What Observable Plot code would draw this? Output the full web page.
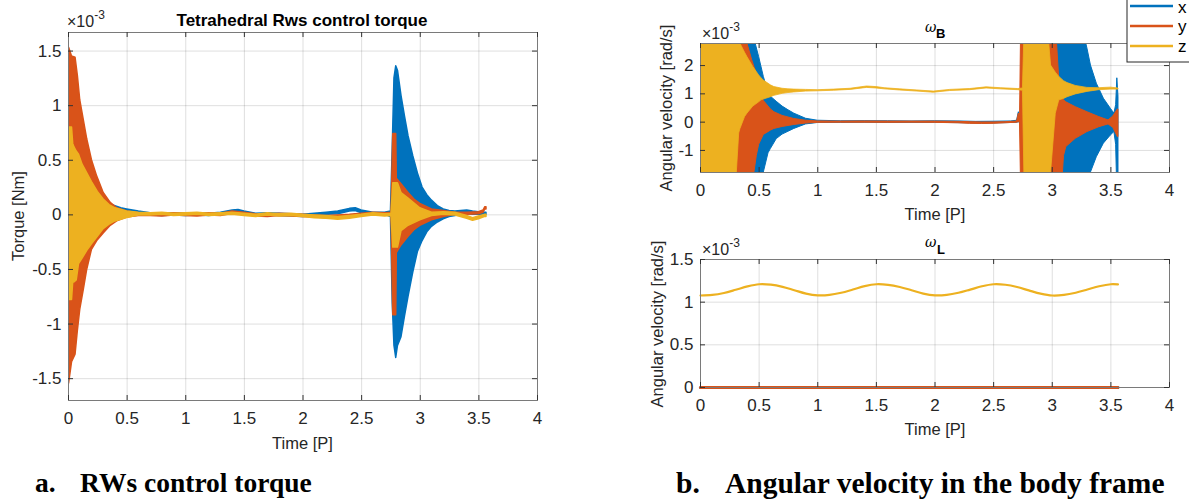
<!DOCTYPE html>
<html>
<head>
<meta charset="utf-8">
<script src="https://cdn.jsdelivr.net/npm/d3@7"></script>
<script src="https://cdn.jsdelivr.net/npm/@observablehq/plot@0.6"></script>
<style>
  html, body { margin: 0; padding: 0; background: #fff; }
  #root { position: relative; width: 1189px; height: 502px; background: #fff; overflow: hidden; }
  .pl { position: absolute; }
  .pl svg [aria-label*="tick label"], .pl svg [aria-label*="tick label"] text { font-size: 17px !important; font-family: "Liberation Sans", Arial, Helvetica, sans-serif !important; fill: #262626; }
  #ov { position: absolute; left: 0; top: 0; pointer-events: none; }
</style>
</head>
<body>
<div id="root">
  <div class="pl" id="pA" style="left:0;top:0"></div>
  <div class="pl" id="pB" style="left:600px;top:0"></div>
  <div class="pl" id="pC" style="left:600px;top:230px"></div>
  <svg id="ov" width="1189" height="502" font-family="Liberation Sans, Arial, Helvetica, sans-serif">
    <!-- left panel -->
    <text x="302" y="26" text-anchor="middle" font-weight="bold" font-size="17" fill="#000">Tetrahedral Rws control torque</text>
    <text x="67" y="27" font-size="16" fill="#262626">×10<tspan dy="-8" font-size="12">-3</tspan></text>
    <text transform="translate(18,216) rotate(-90)" text-anchor="middle" dominant-baseline="central" font-size="16.5" fill="#262626">Torque [Nm]</text>
    <text x="302.5" y="443" text-anchor="middle" dominant-baseline="central" font-size="16.5" fill="#262626">Time [P]</text>
    <!-- omega B -->
    <text x="925" y="32" font-size="14" font-style="italic" font-family="DejaVu Serif, serif" fill="#000">ω</text>
    <text x="936" y="38" font-size="13" font-weight="bold" fill="#000">B</text>
    <text x="702" y="39" font-size="16" fill="#262626">×10<tspan dy="-8" font-size="12">-3</tspan></text>
    <text transform="translate(666,108) rotate(-90)" text-anchor="middle" dominant-baseline="central" font-size="16.5" fill="#262626">Angular velocity [rad/s]</text>
    <text x="935" y="214" text-anchor="middle" dominant-baseline="central" font-size="16.5" fill="#262626">Time [P]</text>
    <!-- omega L -->
    <text x="925" y="247" font-size="14" font-style="italic" font-family="DejaVu Serif, serif" fill="#000">ω</text>
    <text x="937" y="254" font-size="13" font-weight="bold" fill="#000">L</text>
    <text x="702" y="255" font-size="16" fill="#262626">×10<tspan dy="-8" font-size="12">-3</tspan></text>
    <text transform="translate(657,324) rotate(-90)" text-anchor="middle" dominant-baseline="central" font-size="16.5" fill="#262626">Angular velocity [rad/s]</text>
    <text x="935" y="429" text-anchor="middle" dominant-baseline="central" font-size="16.5" fill="#262626">Time [P]</text>
    <!-- legend -->
    <rect x="1127" y="-6" width="70" height="68" fill="#fff" stroke="#262626" stroke-width="1"></rect>
    <line x1="1130" x2="1173" y1="6" y2="6" stroke="#0072BD" stroke-width="2.5"></line>
    <line x1="1130" x2="1173" y1="26" y2="26" stroke="#D95319" stroke-width="2.5"></line>
    <line x1="1130" x2="1173" y1="46" y2="46" stroke="#EDB120" stroke-width="2.5"></line>
    <text x="1178" y="13" font-size="17" fill="#000">x</text>
    <text x="1178" y="32" font-size="17" fill="#000">y</text>
    <text x="1178" y="52" font-size="17" fill="#000">z</text>
    <!-- captions -->
    <text x="35" y="492" font-family="Liberation Serif, Times New Roman, serif" font-weight="bold" font-size="27.5" fill="#000">a.</text>
    <text x="80" y="492" font-family="Liberation Serif, Times New Roman, serif" font-weight="bold" font-size="27.5" fill="#000">RWs control torque</text>
    <text x="676" y="493" font-family="Liberation Serif, Times New Roman, serif" font-weight="bold" font-size="29.5" fill="#000">b.</text>
    <text x="725" y="493" font-family="Liberation Serif, Times New Roman, serif" font-weight="bold" font-size="29.5" fill="#000">Angular velocity in the body frame</text>
  </svg>
</div>
<script>
// ---------------- DATA (values in units of 1e-3) ----------------
const colors = { x: "#0072BD", y: "#D95319", z: "#EDB120" };
const xTicks = [0, 0.5, 1, 1.5, 2, 2.5, 3, 3.5, 4];
const torqueTicks = [-1.5, -1, -0.5, 0, 0.5, 1, 1.5];
const omegaBTicks = [-1, 0, 1, 2];
const omegaLTicks = [0, 0.5, 1, 1.5];

// Torque envelopes (upper / lower of the oscillating signals)
const torqueX_t  = [0, 0.05, 0.1, 0.15, 0.2, 0.25, 0.3, 0.35, 0.4, 0.45, 0.5, 0.55, 0.6, 0.7, 0.8, 0.9, 1.0, 1.1, 1.2, 1.3, 1.4, 1.45, 1.5, 1.6, 1.7, 1.8, 1.9, 2.0, 2.1, 2.2, 2.3, 2.4, 2.45, 2.5, 2.6, 2.7, 2.75, 2.765, 2.78, 2.795, 2.81, 2.84, 2.87, 2.90, 2.94, 2.98, 3.02, 3.06, 3.1, 3.15, 3.2, 3.25, 3.3, 3.35, 3.4, 3.45, 3.5, 3.55, 3.565];
const torqueX_hi = [0.9, 0.8, 0.6, 0.45, 0.3, 0.2, 0.14, 0.1, 0.08, 0.06, 0.05, 0.04, 0.03, 0.015, 0.01, 0.015, 0.01, 0.015, 0.01, 0.02, 0.04, 0.045, 0.03, 0.01, 0.015, 0.01, 0.005, 0.0, 0.01, 0.02, 0.03, 0.055, 0.06, 0.04, 0.02, 0.02, 0.03, 0.6, 1.25, 1.36, 1.32, 1.09, 0.90, 0.72, 0.54, 0.38, 0.25, 0.18, 0.13, 0.08, 0.05, 0.035, 0.03, 0.035, 0.04, 0.03, 0.025, 0.02, 0.02];
const torqueX_lo = [-0.9, -0.8, -0.6, -0.45, -0.3, -0.2, -0.13, -0.08, -0.05, -0.02, -0.005, 0.0, 0.005, -0.005, -0.01, -0.005, -0.01, -0.005, -0.01, 0.0, 0.015, 0.02, 0.01, -0.01, -0.005, -0.01, -0.015, -0.02, -0.01, 0.0, 0.005, 0.03, 0.035, 0.015, 0.0, 0.0, -0.02, -0.8, -1.2, -1.31, -1.2, -1.12, -0.93, -0.75, -0.53, -0.34, -0.24, -0.16, -0.11, -0.07, -0.04, -0.02, -0.01, 0.0, 0.005, 0.0, 0.0, -0.01, 0.0];

const torqueY_t  = [0, 0.005, 0.03, 0.06, 0.08, 0.10, 0.13, 0.16, 0.2, 0.245, 0.3, 0.36, 0.415, 0.5, 0.6, 0.7, 0.8, 0.9, 1.0, 1.1, 1.2, 1.3, 1.4, 1.5, 1.6, 1.7, 1.8, 1.9, 2.0, 2.1, 2.2, 2.3, 2.4, 2.5, 2.6, 2.7, 2.755, 2.77, 2.795, 2.80, 2.84, 2.9, 2.95, 3.0, 3.1, 3.2, 3.3, 3.4, 3.5, 3.54, 3.555, 3.565];
const torqueY_hi = [1.53, 1.53, 1.45, 1.44, 1.27, 1.05, 0.87, 0.69, 0.5, 0.35, 0.2, 0.11, 0.06, 0.03, 0.015, 0.01, 0.005, 0.015, 0.01, 0.005, 0.015, 0.01, 0.03, 0.02, 0.005, 0.0, 0.01, 0.005, 0.0, -0.005, -0.01, -0.005, 0.0, 0.01, 0.02, 0.015, 0.02, 0.74, 0.74, 0.33, 0.28, 0.2, 0.14, 0.1, 0.05, 0.035, 0.02, 0.02, 0.025, 0.04, 0.07, 0.07];
const torqueY_lo = [-1.55, -1.545, -1.35, -1.28, -1.06, -0.87, -0.69, -0.5, -0.32, -0.24, -0.17, -0.1, -0.06, -0.025, -0.01, -0.01, -0.015, -0.005, -0.01, -0.015, -0.005, -0.01, 0.01, 0.0, -0.015, -0.02, -0.01, -0.015, -0.02, -0.025, -0.03, -0.025, -0.02, -0.01, 0.0, -0.005, 0.0, -0.92, -0.92, -0.35, -0.28, -0.2, -0.14, -0.1, -0.05, -0.02, 0.0, 0.0, 0.005, 0.02, 0.05, 0.05];

const torqueZ_t  = [0, 0.03, 0.04, 0.05, 0.07, 0.09, 0.12, 0.16, 0.2, 0.25, 0.3, 0.35, 0.4, 0.5, 0.6, 0.7, 0.8, 0.9, 1.0, 1.1, 1.2, 1.3, 1.4, 1.5, 1.6, 1.7, 1.8, 1.9, 2.0, 2.1, 2.2, 2.3, 2.4, 2.5, 2.6, 2.7, 2.755, 2.77, 2.81, 2.84, 2.9, 3.0, 3.1, 3.2, 3.3, 3.4, 3.45, 3.5, 3.55, 3.565];
const torqueZ_hi = [0.8, 0.8, 0.65, 0.62, 0.58, 0.55, 0.46, 0.38, 0.3, 0.21, 0.14, 0.09, 0.06, 0.03, 0.02, 0.015, 0.02, 0.01, 0.015, 0.02, 0.01, 0.015, 0.02, 0.01, 0.0, 0.015, 0.005, 0.01, 0.0, -0.005, -0.01, -0.02, -0.01, 0.0, 0.015, 0.005, 0.01, 0.29, 0.29, 0.2, 0.15, 0.06, 0.02, 0.025, 0.02, -0.01, -0.03, -0.015, 0.0, 0.0];
const torqueZ_lo = [-0.78, -0.78, -0.62, -0.62, -0.6, -0.45, -0.4, -0.33, -0.27, -0.2, -0.13, -0.09, -0.06, -0.03, -0.005, -0.005, 0.0, -0.01, -0.005, 0.0, -0.01, -0.005, 0.0, -0.01, -0.02, -0.005, -0.015, -0.01, -0.02, -0.03, -0.035, -0.045, -0.035, -0.02, -0.005, -0.015, -0.01, -0.3, -0.3, -0.15, -0.1, -0.05, -0.01, 0.0, -0.005, -0.035, -0.055, -0.04, -0.02, -0.02];

// Angular velocity in body frame (omega_B) envelopes; values beyond the axis are clipped
const omegaBX_t  = [0, 0.40, 0.47, 0.50, 0.54, 0.58, 0.60, 0.65, 0.70, 0.75, 0.80, 0.90, 1.00, 1.20, 1.40, 1.60, 1.80, 2.00, 2.20, 2.35, 2.50, 2.65, 2.70, 2.715, 2.73, 2.745, 3.25, 3.30, 3.33, 3.38, 3.44, 3.50, 3.53, 3.545, 3.555, 3.565];
const omegaBX_hi = [3.5, 3.5, 2.78, 2.3, 1.6, 1.05, 0.9, 0.72, 0.55, 0.42, 0.3, 0.12, 0.05, 0.03, 0.035, 0.03, 0.025, 0.03, 0.025, 0.01, 0.015, 0.025, 0.05, 0.35, 0.1, 3.5, 3.5, 2.6, 2.0, 1.36, 0.83, 0.47, 0.3, 0.6, 1.55, 0.9];
const omegaBX_lo = [-2.5, -2.5, -2.5, -2.5, -1.78, -1.1, -0.95, -0.6, -0.44, -0.34, -0.24, -0.08, -0.03, -0.025, -0.02, -0.03, -0.025, -0.025, -0.035, -0.05, -0.045, -0.03, -0.02, 0.0, -0.05, -2.5, -2.5, -2.5, -1.78, -1.24, -0.76, -0.47, -0.35, -0.8, -2.5, -2.5];

const omegaBY_t  = [0, 0.38, 0.40, 0.44, 0.46, 0.48, 0.50, 0.54, 0.60, 0.63, 0.70, 0.80, 0.90, 1.00, 1.20, 1.40, 1.60, 1.80, 2.00, 2.20, 2.30, 2.40, 2.50, 2.60, 2.70, 2.715, 2.725, 2.735, 3.03, 3.06, 3.08, 3.10, 3.12, 3.20, 3.30, 3.40, 3.48, 3.52, 3.56, 3.565];
const omegaBY_hi = [3.5, 3.5, 2.78, 2.2, 1.95, 1.7, 1.3, 0.75, 0.45, 0.35, 0.22, 0.11, 0.05, 0.025, 0.02, 0.025, 0.02, 0.02, 0.02, 0.01, 0.0, -0.01, -0.01, 0.0, 0.02, 0.3, 0.05, 3.5, 3.5, 1.5, 1.0, 0.77, 0.7, 0.53, 0.35, 0.18, 0.06, 0.2, 0.45, 0.45];
const omegaBY_lo = [-2.5, -2.5, -2.5, -2.5, -1.78, -1.2, -0.8, -0.45, -0.3, -0.24, -0.17, -0.1, -0.05, -0.025, -0.02, -0.02, -0.025, -0.02, -0.025, -0.04, -0.06, -0.065, -0.06, -0.04, -0.02, 0.0, -0.03, -2.5, -2.5, -2.5, -2.5, -1.2, -0.88, -0.59, -0.35, -0.18, -0.08, -0.2, -0.53, -0.53];

const omegaBZ_t  = [0, 0.30, 0.31, 0.33, 0.34, 0.38, 0.40, 0.45, 0.50, 0.52, 0.54, 0.60, 0.63, 0.70, 0.75, 0.80, 0.90, 1.00, 1.14, 1.28, 1.42, 1.50, 1.57, 1.70, 1.85, 1.99, 2.13, 2.30, 2.44, 2.56, 2.71, 2.75, 2.765, 2.94, 2.96, 2.99, 3.03, 3.06, 3.10, 3.13, 3.20, 3.30, 3.40, 3.50, 3.565];
const omegaBZ_hi = [3.5, 3.5, 3.5, 3.5, 2.78, 2.45, 2.3, 1.95, 1.65, 1.55, 1.47, 1.3, 1.24, 1.18, 1.16, 1.15, 1.14, 1.13, 1.15, 1.18, 1.26, 1.24, 1.2, 1.16, 1.12, 1.08, 1.14, 1.17, 1.23, 1.2, 1.17, 1.19, 3.5, 3.5, 3.5, 2.0, 1.75, 1.6, 1.45, 1.38, 1.28, 1.21, 1.2, 1.22, 1.19];
const omegaBZ_lo = [-2.5, -2.5, -1.78, -0.4, -0.25, 0.18, 0.3, 0.55, 0.7, 0.77, 0.8, 0.88, 0.93, 1.0, 1.03, 1.05, 1.08, 1.09, 1.11, 1.14, 1.21, 1.19, 1.16, 1.12, 1.08, 1.04, 1.1, 1.13, 1.19, 1.16, 1.13, 1.11, -2.5, -2.5, -2.5, -1.78, 0.3, 0.77, 0.82, 0.88, 0.98, 1.07, 1.13, 1.15, 1.15];

// omega_L (orbital frame) samples
const omegaL_t = [0, 0.1, 0.2, 0.3, 0.4, 0.5, 0.6, 0.7, 0.8, 0.9, 1.0, 1.1, 1.2, 1.3, 1.4, 1.5, 1.6, 1.7, 1.8, 1.9, 2.0, 2.1, 2.2, 2.3, 2.4, 2.5, 2.6, 2.7, 2.8, 2.9, 3.0, 3.1, 3.2, 3.3, 3.4, 3.5, 3.56];
const omegaL_x = [0, 0, 0, 0, 0, 0, 0, 0, 0, 0, 0, 0, 0, 0, 0, 0, 0, 0, 0, 0, 0, 0, 0, 0, 0, 0, 0, 0, 0, 0, 0, 0, 0, 0, 0, 0, 0];
const omegaL_y = [0, 0, 0, 0, 0, 0, 0, 0, 0, 0, 0, 0, 0, 0, 0, 0, 0, 0, 0, 0, 0, 0, 0, 0, 0, 0, 0, 0, 0, 0, 0, 0, 0, 0, 0, 0, 0];
const omegaL_z = [1.078, 1.085, 1.108, 1.145, 1.185, 1.21, 1.205, 1.18, 1.14, 1.1, 1.08, 1.085, 1.11, 1.148, 1.188, 1.21, 1.203, 1.178, 1.14, 1.1, 1.08, 1.086, 1.11, 1.147, 1.186, 1.21, 1.204, 1.178, 1.138, 1.1, 1.078, 1.085, 1.11, 1.148, 1.187, 1.21, 1.208];

// ---------------- DRAWING ----------------
const fmt = d => String(d);
const FONT = "Liberation Sans, Arial, Helvetica, sans-serif";
const rows = (t, hi, lo) => t.map((v, i) => ({ t: v, hi: hi[i], lo: lo[i] }));

function axesMarks(yTicks, W, H) {
  const tl = 5;
  return {
    under: [
      Plot.gridX(xTicks, { stroke: "#000", strokeOpacity: 0.13, strokeWidth: 1 }),
      Plot.gridY(yTicks, { stroke: "#000", strokeOpacity: 0.13, strokeWidth: 1 })
    ],
    over: [
      Plot.frame({ stroke: "#7a7a7a", strokeWidth: 1 }),
      Plot.tickX(xTicks, { x: d => d, stroke: "#333", insetTop: H - tl }),
      Plot.tickX(xTicks, { x: d => d, stroke: "#333", insetBottom: H - tl }),
      Plot.tickY(yTicks, { y: d => d, stroke: "#333", insetRight: W - tl }),
      Plot.tickY(yTicks, { y: d => d, stroke: "#333", insetLeft: W - tl }),
      Plot.axisX(xTicks, { tickSize: 0, tickPadding: 11, tickFormat: fmt, label: null, fontSize: 17, fill: "#262626" }),
      Plot.axisY(yTicks, { tickSize: 0, tickPadding: 7, tickFormat: fmt, label: null, fontSize: 17, fill: "#262626" })
    ]
  };
}

function envelope(data, color, sw) {
  return Plot.areaY(data, { x: "t", y1: "lo", y2: "hi", fill: color, stroke: color, strokeWidth: sw, clip: true, curve: "linear" });
}

function makePlot({ width, height, margin, yDomain, yTicks, marks }) {
  const W = width - margin.left - margin.right;
  const H = height - margin.top - margin.bottom;
  const ax = axesMarks(yTicks, W, H);
  return Plot.plot({
    width, height,
    marginTop: margin.top, marginRight: margin.right, marginBottom: margin.bottom, marginLeft: margin.left,
    x: { domain: [0, 4] },
    y: { domain: yDomain },
    style: { background: "transparent", fontFamily: FONT, fontSize: "17px", color: "#262626", overflow: "visible" },
    marks: [...ax.under, ...marks, ...ax.over]
  });
}

// Panel a: torque
document.getElementById("pA").appendChild(makePlot({
  width: 560, height: 450,
  margin: { top: 32, right: 23, bottom: 50, left: 68 },
  yDomain: [-1.7, 1.67], yTicks: torqueTicks,
  marks: [
    envelope(rows(torqueX_t, torqueX_hi, torqueX_lo), colors.x, 1.5),
    envelope(rows(torqueY_t, torqueY_hi, torqueY_lo), colors.y, 1.5),
    envelope(rows(torqueZ_t, torqueZ_hi, torqueZ_lo), colors.z, 1.5)
  ]
}));

// Panel b (top): omega_B
document.getElementById("pB").appendChild(makePlot({
  width: 589, height: 225,
  margin: { top: 43, right: 20, bottom: 53, left: 100 },
  yDomain: [-1.78, 2.78], yTicks: omegaBTicks,
  marks: [
    envelope(rows(omegaBX_t, omegaBX_hi, omegaBX_lo), colors.x, 1),
    envelope(rows(omegaBY_t, omegaBY_hi, omegaBY_lo), colors.y, 1),
    envelope(rows(omegaBZ_t, omegaBZ_hi, omegaBZ_lo), colors.z, 0.8)
  ]
}));

// Panel b (bottom): omega_L
const lRows = omegaL_t.map((t, i) => ({ t, x: omegaL_x[i], y: omegaL_y[i], z: omegaL_z[i] }));
document.getElementById("pC").appendChild(makePlot({
  width: 589, height: 210,
  margin: { top: 29, right: 20, bottom: 53, left: 100 },
  yDomain: [0, 1.5], yTicks: omegaLTicks,
  marks: [
    Plot.lineY(lRows, { x: "t", y: "x", stroke: colors.x, strokeWidth: 3 }),
    Plot.lineY(lRows, { x: "t", y: "y", stroke: colors.y, strokeWidth: 3 }),
    Plot.lineY(lRows, { x: "t", y: "z", stroke: colors.z, strokeWidth: 2.2, curve: "catmull-rom" })
  ]
}));
</script>
</body>
</html>
